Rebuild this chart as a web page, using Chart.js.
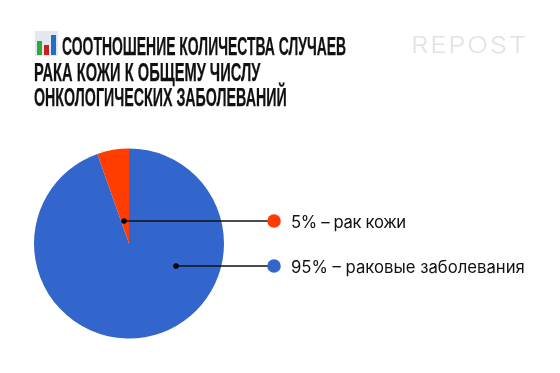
<!DOCTYPE html>
<html lang="ru">
<head>
<meta charset="utf-8">
<title>Соотношение</title>
<script src="https://cdn.jsdelivr.net/npm/chart.js@4"></script>
<style>
    html, body { margin: 0; padding: 0; background: #fff; }
    #page { position: relative; width: 560px; height: 373px; overflow: hidden; }
    #pie { position: absolute; left: 0; top: 0; }
    .title { position: absolute; font: bold 26px/26px "Liberation Sans", sans-serif; color: #111; white-space: nowrap; transform-origin: 0 0; -webkit-text-stroke: 0.25px #111; }
    .repost { position: absolute; left: 411px; top: 30px; font: 300 23px/30px Inter, sans-serif; letter-spacing: 1.5px; color: #e2e2e2; transform-origin: 0 0; transform: scaleX(1.19); }
    .label { position: absolute; left: 291px; font: 400 16.7px/22px Inter, sans-serif; color: #111; white-space: nowrap; }
    .icon { position: absolute; left: 35px; top: 31px; width: 23px; height: 25px; background: #e2e8ee; }
    .icon i { position: absolute; bottom: 1px; width: 5px; }
</style>
</head>
<body>
<div id="page">
    <canvas id="pie" width="560" height="373"></canvas>
    <div class="icon">
        <i style="left:2px;height:14px;background:#2fa83a"></i>
        <i style="left:9px;height:10px;background:#c8201f"></i>
        <i style="left:16px;height:20px;background:#1f6fc4"></i>
    </div>
    <div class="title" id="title0" style="left:62px;top:33px;transform:scaleX(0.536)"></div>
    <div class="title" id="title1" style="left:34px;top:58.5px;transform:scaleX(0.564)"></div>
    <div class="title" id="title2" style="left:34px;top:84px;transform:scaleX(0.548)"></div>
    <div class="repost">REPOST</div>
    <div class="label" id="label0" style="top:211px;letter-spacing:-0.35px"></div>
    <div class="label" id="label1" style="top:256px"></div>
</div>
<script>
// values: the wedge is drawn a bit wider than its "5%" caption
const titleLines = ["СООТНОШЕНИЕ КОЛИЧЕСТВА СЛУЧАЕВ", "РАКА КОЖИ К ОБЩЕМУ ЧИСЛУ", "ОНКОЛОГИЧЕСКИХ ЗАБОЛЕВАНИЙ"];
const categories = ["95% – раковые заболевания", "5% – рак кожи"];
const sliceValues = [94.6, 5.4];
const sliceColors = ["#3366cc", "#ff3d00"];

titleLines.forEach((line, i) => {
    document.getElementById(`title${i}`).textContent = line;
});
document.getElementById("label0").textContent = categories[1];
document.getElementById("label1").textContent = categories[0];

/**
 * Leader lines from a point inside each slice to its legend dot
 */
const leaderPlugin = {
    id: "leaders",
    afterDatasetsDraw(chart) {
        const ctx = chart.ctx;
        const leaders = [
            { x: 124, y: 221, color: sliceColors[1] },
            { x: 176, y: 266, color: sliceColors[0] },
        ];
        ctx.save();
        for (const leader of leaders) {
            ctx.strokeStyle = "#111";
            ctx.lineWidth = 1.4;
            ctx.beginPath();
            ctx.moveTo(leader.x, leader.y);
            ctx.lineTo(274, leader.y);
            ctx.stroke();

            ctx.fillStyle = "#000";
            ctx.beginPath();
            ctx.arc(leader.x, leader.y, 2.8, 0, Math.PI * 2);
            ctx.fill();

            ctx.fillStyle = leader.color;
            ctx.beginPath();
            ctx.arc(274, leader.y, 6.8, 0, Math.PI * 2);
            ctx.fill();
        }
        ctx.restore();
    },
};

new Chart(document.getElementById("pie").getContext("2d"), {
    type: "pie",
    data: {
        labels: categories,
        datasets: [{ data: sliceValues, backgroundColor: sliceColors, borderWidth: 0 }],
    },
    options: {
        responsive: false,
        animation: false,
        layout: { padding: { left: 34, top: 148.5, right: 336, bottom: 34.5 } },
        plugins: { legend: { display: false }, tooltip: { enabled: false } },
    },
    plugins: [leaderPlugin],
});
</script>
</body>
</html>
